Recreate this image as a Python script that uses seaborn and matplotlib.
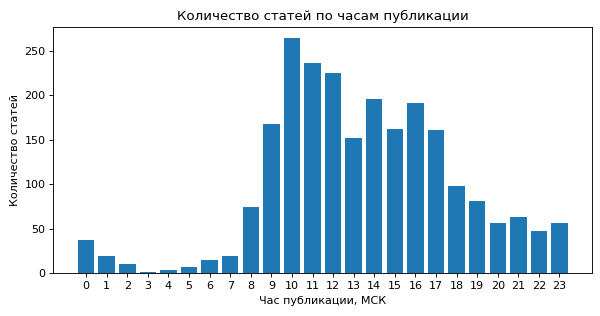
import matplotlib
matplotlib.use("Agg")
import matplotlib.pyplot as plt
import seaborn as sns
import pandas as pd

hours = list(range(24))
counts = [37, 19, 11, 1, 4, 7, 15, 19, 75, 168, 264, 236, 225, 152,
          196, 162, 191, 161, 98, 81, 56, 63, 48, 57]

df = pd.DataFrame({"hour": hours, "count": counts})

fig = plt.figure(figsize=(7.5, 3.95), dpi=80)
ax = fig.add_axes([0.089, 0.135, 0.898, 0.781])
sns.barplot(data=df, x="hour", y="count", color="#1f77b4", saturation=1,
            width=0.8, ax=ax, errorbar=None)
n = len(hours)
span = (n - 1) + 0.8
ax.set_xlim(-0.4 - 0.05 * span, n - 1 + 0.4 + 0.05 * span)
ax.set_ylim(0, max(counts) * 1.05)
ax.set_title("Количество статей по часам публикации")
ax.set_xlabel("Час публикации, МСК")
ax.set_ylabel("Количество статей")
fig.savefig("out.png", dpi=80)
